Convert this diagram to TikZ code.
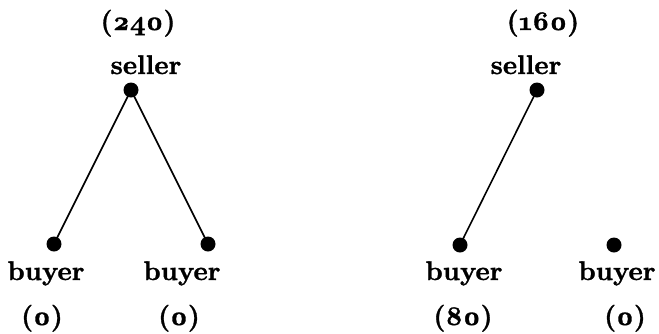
\documentclass[tikz,border=0pt]{standalone}
\usepackage{fontspec}
\setmainfont{lmroman10}[Extension=.otf, UprightFont=*-regular, BoldFont=*-bold, ItalicFont=*-italic, BoldItalicFont=*-bolditalic, Numbers=OldStyle, BoldFeatures={FakeBold=1.2}]
\begin{document}
\begin{tikzpicture}[x=1pt,y=-1pt,
  dot/.style={circle,fill=black,inner sep=0pt,minimum size=15pt},
  lbl/.style={anchor=base,inner sep=0pt,font=\fontsize{27}{32}\selectfont\bfseries},
  edge/.style={line width=1.6pt}]
\useasboundingbox (0,0) rectangle (659,333);
% left tree
\node[lbl] (pl) at (138,30) {(240)};
\node[lbl] (sl) at (146,74) {seller};
\node[dot] (s1) at (131,90) {};
\node[dot] (b1) at (54,244) {};
\node[dot] (b2) at (208,244) {};
\node[lbl] (bl1) at (46,280) {buyer};
\node[lbl] (bl2) at (182,280) {buyer};
\node[lbl] (p1) at (42,325) {(0)};
\node[lbl] (p2) at (179,325) {(0)};
\draw[edge] (s1.center) -- (b1.center);
\draw[edge] (s1.center) -- (b2.center);
% right tree
\node[lbl] (pr) at (543,30) {(160)};
\node[lbl] (sr) at (526,74) {seller};
\node[dot] (s2) at (537,90) {};
\node[dot] (b3) at (460,245) {};
\node[dot] (b4) at (614,245) {};
\node[lbl] (bl3) at (464,280) {buyer};
\node[lbl] (bl4) at (617,280) {buyer};
\node[lbl] (p3) at (463,325) {(80)};
\node[lbl] (p4) at (625,325) {(0)};
\draw[edge] (s2.center) -- (b3.center);
\end{tikzpicture}
\end{document}
